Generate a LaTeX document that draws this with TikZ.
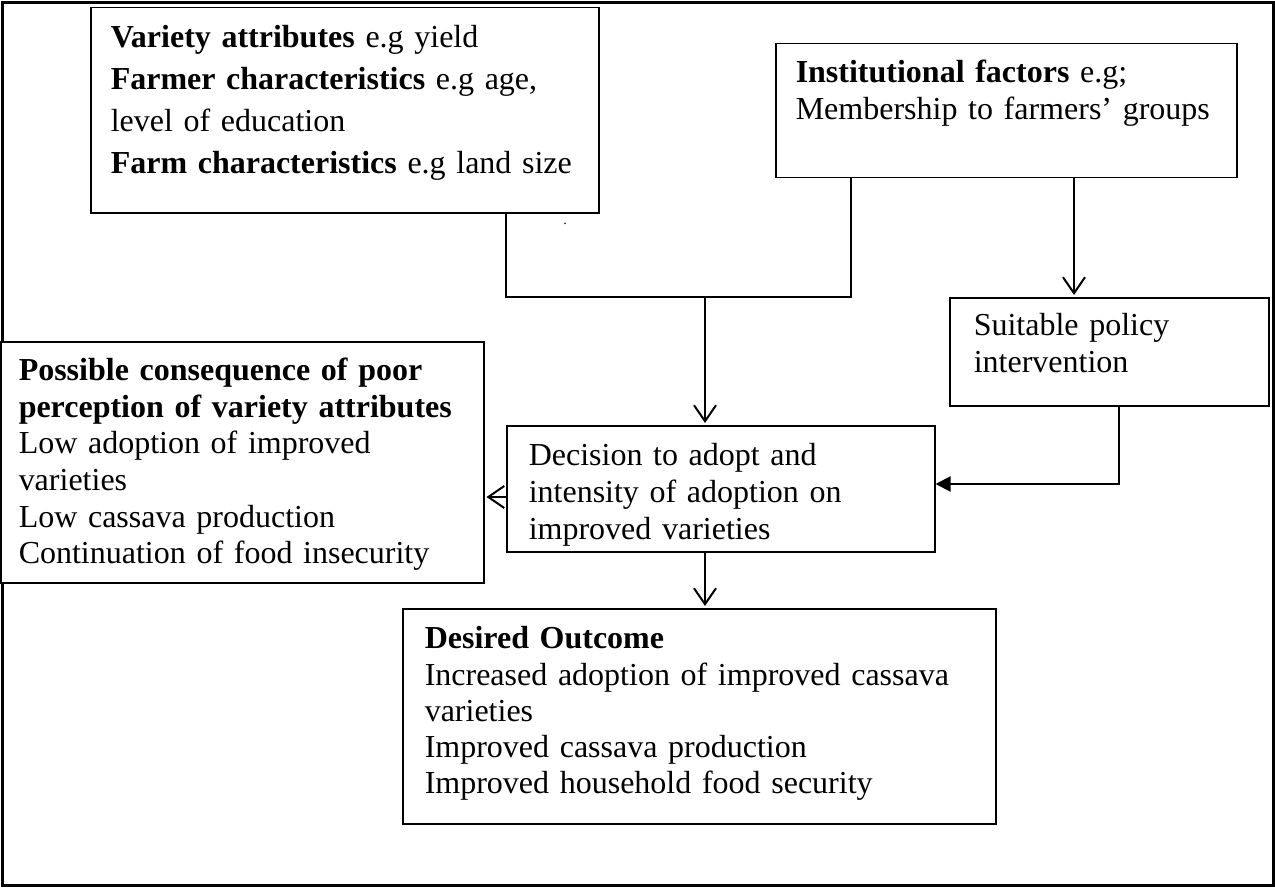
\documentclass[tikz,border=0pt]{standalone}
\usepackage{fontspec}
\setmainfont{Liberation Serif}
\usetikzlibrary{arrows.meta}
\tikzset{
  box/.style={rectangle, draw=black, fill=white, line width=1.5pt,
              anchor=north west, align=left, inner ysep=0pt,
              font=\fontsize{32}{37}\selectfont},
  link/.style={line width=2pt},
  arrow/.style={-{Straight Barb[length=16pt, width=22pt]}, line width=2pt,
                shorten >=2pt},
  farrow/.style={-{Triangle[length=15pt, width=15pt]}, line width=2pt},
}

\begin{document}
\begin{tikzpicture}[x=1pt, y=1pt]
  \useasboundingbox (0,0) rectangle (1275,-888);

  %% Outer frame
  \draw[line width=3pt] (2,-3) rectangle (1273,-885);

  %% Row 1: determinants of adoption
  \node[box, inner xsep=20pt, text width=468pt, text height=40pt,
        text depth=165pt, font=\fontsize{32}{42}\selectfont] (var) at (90,-7)
    {\textbf{Variety attributes} e.g yield\\
     \textbf{Farmer characteristics} e.g age,\\
     level of education\\
     \textbf{Farm characteristics} e.g land size};
  \node[box, inner xsep=20pt, text width=421pt, text height=39pt,
        text depth=95pt] (inst) at (775,-43)
    {\textbf{Institutional factors} e.g;\\
     Membership to farmers’ groups};
  \node[inner sep=0pt, font=\fontsize{14}{14}\selectfont] (dot) at (565,-224) {.};

  %% Row 2: policy and decision
  \node[box, inner xsep=24pt, text width=271pt, text height=38pt,
        text depth=70pt] (policy) at (949,-297)
    {Suitable policy\\intervention};
  \node[box, inner xsep=22pt, text width=384pt, text height=40pt,
        text depth=86pt] (dec) at (506,-425)
    {Decision to adopt and\\
     intensity of adoption on\\
     improved varieties};
  \node[box, inner xsep=18pt, text width=447pt, text height=39pt,
        text depth=202pt, font=\fontsize{32}{36.6}\selectfont] (cons) at (0,-341)
    {\textbf{Possible consequence of poor}\\
     \textbf{perception of variety attributes}\\
     Low adoption of improved\\
     varieties\\
     Low cassava production\\
     Continuation of food insecurity};

  %% Row 3: outcome
  \node[box, inner xsep=22pt, text width=549pt, text height=40pt,
        text depth=175pt, font=\fontsize{32}{36.3}\selectfont] (out) at (402,-608)
    {\textbf{Desired Outcome}\\
     Increased adoption of improved cassava\\
     varieties\\
     Improved cassava production\\
     Improved household food security};

  %% Connectors
  \coordinate (jl) at (506,-297);
  \coordinate (jr) at (851,-297);
  \coordinate (jm) at (705,-297);
  \coordinate (iv) at (1074,-297);
  \coordinate (pv) at (1119,-484);
  \coordinate (cv) at (0,-497);

  \draw[link] (var.south -| jl) -- (jl) -- (jr) -- (inst.south -| jr);
  \draw[arrow] (jm) -- (dec.north -| jm);
  \draw[arrow] (inst.south -| iv) -- (policy.north -| iv);
  \draw[farrow] (policy.south -| pv) -- (pv) -- (dec.east |- pv);
  \draw[arrow] (dec.west |- cv) -- (cons.east |- cv);
  \draw[arrow] (dec.south -| jm) -- (out.north -| jm);

\end{tikzpicture}
\end{document}
